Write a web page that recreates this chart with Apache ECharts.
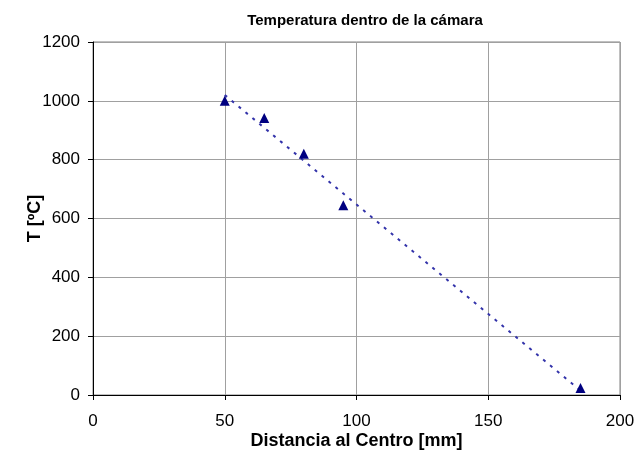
<!DOCTYPE html>
<html>
<head>
<meta charset="utf-8">
<script src="https://cdn.jsdelivr.net/npm/echarts@6/dist/echarts.min.js"></script>
<style>
  html, body { margin: 0; padding: 0; background: #fff; }
  #chart { width: 634px; height: 455px; }
</style>
</head>
<body>
<div id="chart"></div>
<script>
// medidas
var distancia = [50, 65, 80, 95, 185];
var temperatura = [1000, 942, 820, 645, 24];
// linea de tendencia (extremos)
var tendX = [50, 185];
var tendY = [1020, 15];

var puntos = distancia.map(function (d, i) { return [d, temperatura[i]]; });
var tendencia = tendX.map(function (d, i) { return [d, tendY[i]]; });

var fuente = '"Liberation Sans", Arial, sans-serif';
var chart = echarts.init(document.getElementById('chart'));

var option = {
  animation: false,
  backgroundColor: '#fff',
  title: {
    text: 'Temperatura dentro de la cámara',
    left: 360, top: 8, textAlign: 'center',
    textStyle: { fontFamily: fuente, fontSize: 15, fontWeight: 'bold', color: '#000' }
  },
  grid: { left: 93, top: 42, width: 527, height: 353, outerBoundsMode: 'none',
    show: true, borderColor: '#808080', borderWidth: 1 },
  xAxis: {
    type: 'value', min: 0, max: 200, interval: 50,
    name: 'Distancia al Centro [mm]', nameLocation: 'middle', nameGap: 37, nameMoveOverlap: false,
    nameTextStyle: { fontFamily: fuente, fontSize: 18, fontWeight: 'bold', color: '#000' },
    axisLine: { onZero: false, lineStyle: { color: '#000' } },
    axisTick: { show: true, length: 5, lineStyle: { color: '#000' } },
    axisLabel: { fontFamily: fuente, fontSize: 17, color: '#000', margin: 18 },
    splitLine: { show: true, lineStyle: { color: '#a0a0a0' } }
  },
  yAxis: {
    type: 'value', min: 0, max: 1200, interval: 200,
    name: 'T [ºC]', nameLocation: 'middle', nameGap: 49, nameMoveOverlap: false,
    nameTextStyle: { fontFamily: fuente, fontSize: 18, fontWeight: 'bold', color: '#000' },
    axisLine: { show: true, lineStyle: { color: '#000' } },
    axisTick: { show: true, length: 5, lineStyle: { color: '#000' } },
    axisLabel: { fontFamily: fuente, fontSize: 17, color: '#000', margin: 13,
      formatter: function (v) { return String(v); } },
    splitLine: { show: true, lineStyle: { color: '#a0a0a0' } }
  },
  series: [
    {
      type: 'line',
      data: tendencia,
      symbol: 'none',
      lineStyle: { color: '#3333aa', width: 2, type: [3, 6] },
      z: 2
    },
    {
      type: 'scatter',
      data: puntos,
      symbol: 'triangle',
      symbolSize: 10,
      itemStyle: { color: '#000080', opacity: 1 },
      z: 3
    }
  ]
};
chart.setOption(option);
</script>
</body>
</html>
